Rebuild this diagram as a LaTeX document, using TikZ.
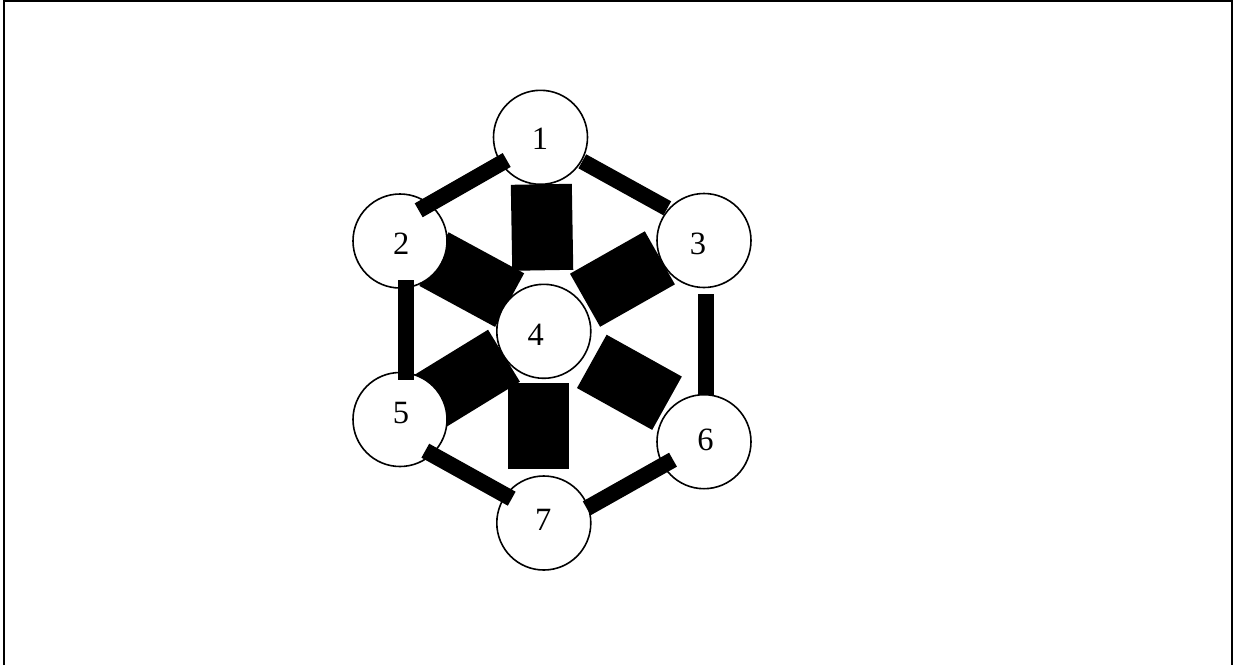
\documentclass[tikz,border=0pt]{standalone}
\usepackage{fontspec}
\setmainfont{Liberation Serif}
\usetikzlibrary{calc}
\pgfdeclarelayer{bg}
\pgfsetlayers{bg,main}
\begin{document}
\begin{tikzpicture}[x=1pt,y=-1pt,
  ball/.style={circle,draw=black,fill=white,line width=1.6pt,minimum size=94pt,inner sep=0pt},
  num/.style={font=\fontsize{32.5}{32.5}\selectfont,inner sep=0pt},
  spoke/.style={line width=61pt,line cap=butt},
  bar/.style={line width=16pt,line cap=butt},
  frame/.style={line width=2pt}]
\useasboundingbox (0,0) rectangle (1234,665);
\draw[frame] (4,665) -- (4,1) -- (1232,1) -- (1232,665);
% circles
\node[ball] (n1) at (540.5,137.3) {};
\node[ball] (n2) at (400,241) {};
\node[ball] (n3) at (704,240.5) {};
\node[ball] (n4) at (543.8,331.3) {};
\node[ball] (n5) at (400,419.5) {};
\node[ball] (n6) at (704,441.7) {};
\node[ball] (n7) at (543.8,523) {};
% labels
\node[num] (t1) at ($(n1)+(-0.5,1.5)$) {1};
\node[num] (t2) at ($(n2)+(1.2,3.2)$) {2};
\node[num] (t3) at ($(n3)+(-6,3.5)$) {3};
\node[num] (t4) at ($(n4)+(-8,3.4)$) {4};
\node[num] (t5) at ($(n5)+(1,-6.7)$) {5};
\node[num] (t6) at ($(n6)+(1.5,-1.7)$) {6};
\node[num] (t7) at ($(n7)+(-0.5,-3.5)$) {7};
% spokes (behind circles)
\begin{pgfonlayer}{bg}
\draw[spoke] ($(n1)!47pt!(n4)$) -- ($(n1)!133pt!(n4)$);
\draw[spoke] ($(n2)+(34,18.1)$) -- ($(n4)+(-34.2,-31.2)$);
\draw[spoke] ($(n3)!47.3pt!(n4)+(-3,-6)$) -- ($(n3)!133.3pt!(n4)+(-3,-6)$);
\draw[spoke] ($(n5)!36pt!(n4)$) -- ($(n5)!122pt!(n4)$);
\draw[spoke] ($(n6)+(-37,-38.5)$) -- ($(n4)+(48,30.1)$);
\draw[spoke] ($(n7)!54pt!(n4)+(-5,0)$) -- ($(n7)!140pt!(n4)+(-5,0)$);
\end{pgfonlayer}
% bars (on top of circles)
\draw[bar] ($(n1)+(-33.8,22.7)$) -- ($(n2)+(18.7,-30.7)$);
\draw[bar] ($(n1)+(41.8,24)$) -- ($(n3)+(-36.7,-32.2)$);
\draw[bar] ($(n2)+(5.7,39)$) -- ($(n5)+(5.7,-39.5)$);
\draw[bar] ($(n3)+(1.7,53.5)$) -- ($(n6)+(1.7,-46.7)$);
\draw[bar] ($(n5)+(25.3,31.2)$) -- ($(n7)+(-32.1,-24.3)$);
\draw[bar] ($(n6)+(-31,18)$) -- ($(n7)+(42.9,-14.7)$);
\end{tikzpicture}
\end{document}
